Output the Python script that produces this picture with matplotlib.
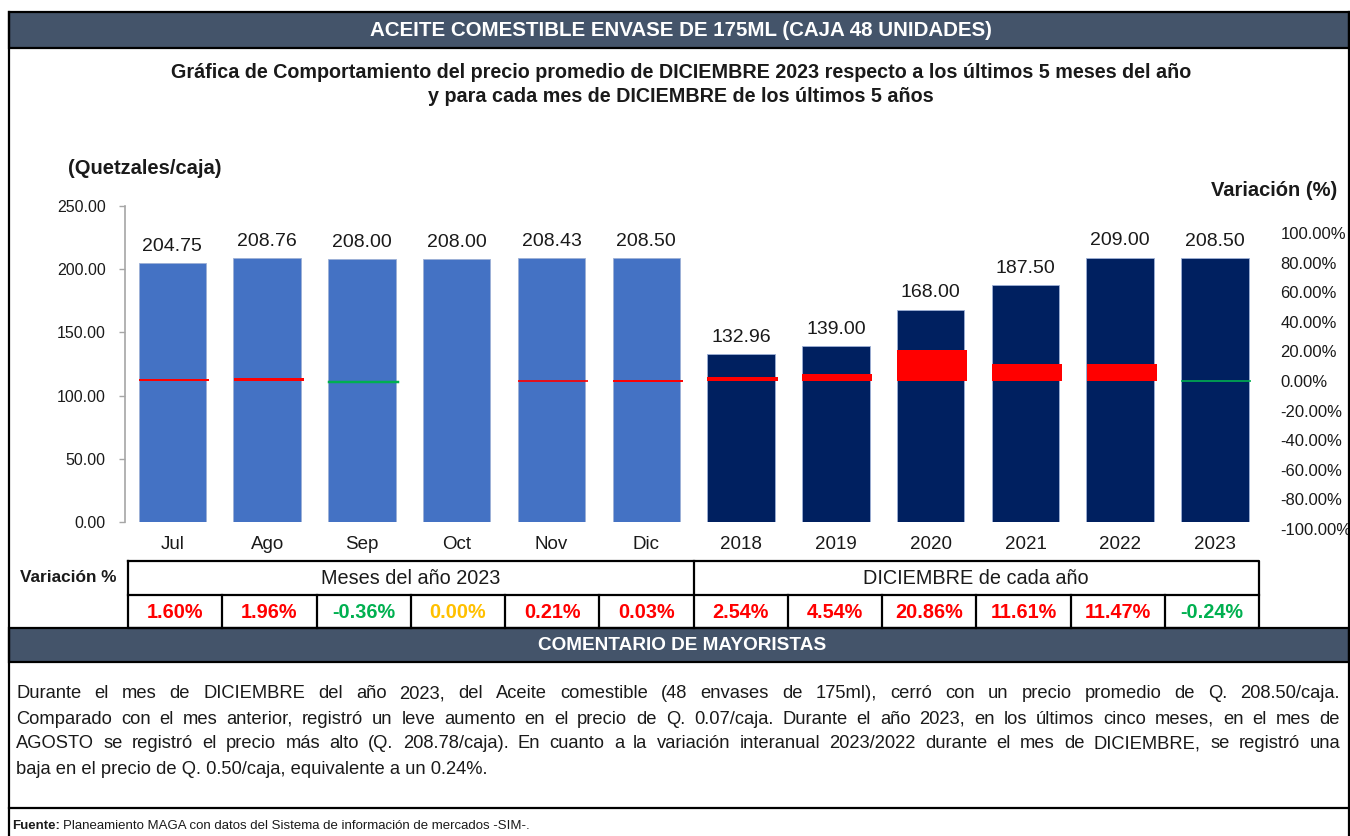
import numpy as np
import matplotlib.pyplot as plt
from matplotlib.patches import Rectangle

plt.rcParams['font.family'] = ['Liberation Sans', 'DejaVu Sans']

# Precio promedio (Q/caja) y variación (%) por periodo
categorias = ['Jul', 'Ago', 'Sep', 'Oct', 'Nov', 'Dic',
              '2018', '2019', '2020', '2021', '2022', '2023']
precios = [204.75, 208.76, 208.00, 208.00, 208.43, 208.50,
           132.96, 139.00, 168.00, 187.50, 209.00, 208.50]
variacion = [1.60, 1.96, -0.36, 0.00, 0.21, 0.03,
             2.54, 4.54, 20.86, 11.61, 11.47, -0.24]
grupos = ['Meses del año 2023', 'DICIEMBRE de cada año']

titulo = 'ACEITE COMESTIBLE ENVASE DE 175ML (CAJA 48 UNIDADES)'
subtitulo = ['Gráfica de Comportamiento del precio promedio de DICIEMBRE 2023 respecto a los últimos 5 meses del año',
             'y para cada mes de DICIEMBRE de los últimos 5 años']
comentario = [
    'Durante el mes de DICIEMBRE del año 2023, del Aceite comestible (48 envases de 175ml), cerró con un precio promedio de Q. 208.50/caja.',
    'Comparado con el mes anterior, registró un leve aumento en el precio de Q. 0.07/caja. Durante el año 2023, en los últimos cinco meses, en el mes de',
    'AGOSTO se registró el precio más alto (Q. 208.78/caja). En cuanto a la variación interanual 2023/2022 durante el mes de DICIEMBRE, se registró una',
    'baja en el precio de Q. 0.50/caja, equivalente a un 0.24%.',
]
fuente = 'Planeamiento MAGA con datos del Sistema de información de mercados -SIM-.'

W, H = 1350, 836
SLATE = '#44546A'
ROJO, VERDE, AMARILLO = '#FF0000', '#00B050', '#FFC000'
TXT = '#1a1a1a'

fig = plt.figure(figsize=(W / 100, H / 100), dpi=100)


def caja(x0, y0, x1, y1):
    # rectangulo en pixeles (origen arriba a la izquierda) -> fraccion de figura
    return [x0 / W, 1 - y1 / H, (x1 - x0) / W, (y1 - y0) / H]


n = len(categorias)
x = np.arange(n)
colores = ['#4472C4'] * 6 + ['#002060'] * 6

# --- precios (eje izquierdo)
ax = fig.add_axes(caja(125, 205.7, 1262.4, 522.3))
ax.bar(x, precios, width=0.712, color=colores, edgecolor='#9DB0D6', linewidth=0.6, zorder=2)
for xi, p in zip(x, precios):
    ax.annotate(f'{p:.2f}', (xi, p), xytext=(0, 6), textcoords='offset points',
                ha='center', va='bottom', fontsize=14, color=TXT)
ax.set_xlim(-0.5, n - 0.5)
ax.set_ylim(0, 250)
ax.set_yticks(np.arange(0, 251, 50))
ax.set_yticklabels([f'{v:.2f}' for v in np.arange(0, 251, 50)])
ax.set_xticks(x)
ax.set_xticklabels(categorias)
ax.tick_params(axis='x', length=0, pad=10, labelsize=13.5, labelcolor=TXT)
ax.tick_params(axis='y', length=4, width=1, color='#A6A6A6', pad=10, labelsize=11.5, labelcolor=TXT)
for s in ['top', 'right', 'bottom']:
    ax.spines[s].set_visible(False)
ax.spines['left'].set_color('#A6A6A6')
ax.spines['left'].set_linewidth(1.2)

# --- variacion (eje derecho), 296 px para 200 puntos porcentuales
ax2 = fig.add_axes(caja(125, 233, 1262.4, 529))
ax2.patch.set_visible(False)
col_var = [ROJO if v > 0 else VERDE for v in variacion]
# grosor minimo de ~2 px para variaciones pequenas
lw_var = [0 if v == 0 else max(0.0, 2.0 - abs(v) * 1.48) * 0.72 for v in variacion]
ax2.bar(x + 0.015, variacion, width=0.74, color=col_var, edgecolor=col_var,
        linewidth=lw_var, zorder=3)
ax2.set_xlim(-0.5, n - 0.5)
ax2.set_ylim(-100, 100)
ax2.set_yticks(np.arange(-100, 101, 20))
ax2.set_yticklabels([f'{v:.2f}%' for v in np.arange(-100, 101, 20)])
ax2.yaxis.tick_right()
ax2.tick_params(axis='y', length=0, pad=13, labelsize=12, labelcolor=TXT)
ax2.set_xticks([])
for s in ax2.spines.values():
    s.set_visible(False)

# --- capa de pixeles para marcos, tabla y textos
ov = fig.add_axes([0, 0, 1, 1])
ov.set_xlim(0, W)
ov.set_ylim(H, 0)
ov.axis('off')

K = 'black'
LW = 1.6

# barras de encabezado
ov.add_patch(Rectangle((9, 12), 1340, 36, facecolor=SLATE, edgecolor=K, linewidth=LW))
ov.add_patch(Rectangle((9, 628), 1340, 34, facecolor=SLATE, edgecolor=K, linewidth=LW))
ov.plot([9, 9], [12, H + 5], color=K, lw=LW)
ov.plot([1348.5, 1348.5], [12, H + 5], color=K, lw=LW)
ov.plot([9, 1349], [808, 808], color=K, lw=LW)

ov.text(681, 30.5, titulo, color='white', fontsize=14.8, fontweight='bold', ha='center', va='center')
ov.text(681, 72, subtitulo[0], fontsize=14.2, fontweight='bold', ha='center', va='center', color=TXT)
ov.text(681, 97, subtitulo[1], fontsize=14.2, fontweight='bold', ha='center', va='center', color=TXT)
ov.text(68, 168, '(Quetzales/caja)', fontsize=14.5, fontweight='bold', ha='left', va='center', color=TXT)
ov.text(1337, 190, 'Variación (%)', fontsize=14.5, fontweight='bold', ha='right', va='center', color=TXT)
ov.text(682, 646, 'COMENTARIO DE MAYORISTAS', color='white', fontsize=13.7, fontweight='bold',
        ha='center', va='center')

# tabla de variaciones
tx0, tx1 = 128, 1259
ty0, ty1, ty2 = 561, 595, 628
paso = (tx1 - tx0) / n
tmid = tx0 + paso * 6
ov.plot([tx0, tx1, tx1, tx0, tx0], [ty0, ty0, ty2, ty2, ty0], color=K, lw=LW)
ov.plot([tx0, tx1], [ty1, ty1], color=K, lw=LW)
for i in range(1, n):
    ov.plot([tx0 + paso * i] * 2, [ty0 if i == 6 else ty1, ty2], color=K, lw=LW)
ov.text(68, 578, 'Variación %', fontsize=12.4, fontweight='bold', ha='center', va='center', color=TXT)
ov.text((tx0 + tmid) / 2, 578, grupos[0], fontsize=14.3, ha='center', va='center', color=TXT)
ov.text((tmid + tx1) / 2, 578, grupos[1], fontsize=14.3, ha='center', va='center', color=TXT)
for i, v in enumerate(variacion):
    c = ROJO if v > 0 else (VERDE if v < 0 else AMARILLO)
    ov.text(tx0 + paso * (i + 0.5), 612, f'{v:.2f}%', fontsize=14.3, fontweight='bold',
            color=c, ha='center', va='center')

# comentario justificado
r = fig.canvas.get_renderer()
px0, px1 = 16, 1340
for k, linea in enumerate(comentario):
    y = 694 + 25 * k
    if k == len(comentario) - 1:
        ov.text(px0, y, linea, fontsize=13.2, ha='left', va='center', color=TXT)
        continue
    palabras = linea.split(' ')
    objs = [ov.text(0, y, p, fontsize=13.2, ha='left', va='center', color=TXT) for p in palabras]
    anchos = [t.get_window_extent(r).width for t in objs]
    hueco = (px1 - px0 - sum(anchos)) / (len(palabras) - 1)
    xp = px0
    for t, a in zip(objs, anchos):
        t.set_x(xp)
        xp += a + hueco

t = ov.text(12, 826, 'Fuente:', fontsize=9.5, fontweight='bold', ha='left', va='center', color=TXT)
w = t.get_window_extent(r).width
ov.text(12 + w + 3, 826, fuente, fontsize=9.5, ha='left', va='center', color=TXT)

fig.savefig('out.png', dpi=100)
